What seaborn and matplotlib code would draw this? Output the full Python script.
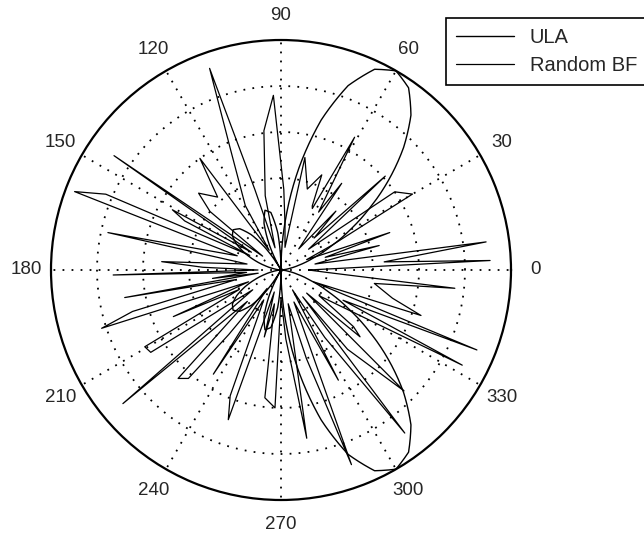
import numpy as np
import pandas as pd
import matplotlib
matplotlib.use("Agg")
import matplotlib.pyplot as plt
import seaborn as sns

# ---------------- data ----------------
# ULA beam pattern (normalised magnitude), read every 5 degrees
ula_theta_deg = list(range(0, 365, 5))
ula_r = [0.000, 0.009, 0.035, 0.080, 0.145, 0.233, 0.343, 0.472, 0.613, 0.754,
         0.879, 0.967, 1.000, 0.963, 0.853, 0.675, 0.452, 0.216, 0.000, 0.163,
         0.254, 0.269, 0.216, 0.118, 0.000, 0.112, 0.200, 0.254, 0.272, 0.258,
         0.222, 0.173, 0.120, 0.071, 0.033, 0.008, 0.000, 0.008, 0.033, 0.071,
         0.120, 0.173, 0.222, 0.258, 0.272, 0.254, 0.200, 0.112, 0.000, 0.118,
         0.216, 0.269, 0.254, 0.163, 0.000, 0.216, 0.452, 0.675, 0.853, 0.963,
         1.000, 0.967, 0.879, 0.754, 0.613, 0.472, 0.343, 0.233, 0.145, 0.080,
         0.035, 0.009, 0.000]

# Random beamforming pattern (spiky), angle in degrees and magnitude
rbf_theta_deg = [0, 2.6, 4.5, 7.8, 10, 14, 16, 19, 22, 26, 30, 34.5, 37, 42, 44,
                 47, 50, 55, 57, 61, 63, 64, 66.8, 72, 78, 80, 85, 88, 92.5, 97,
                 102, 105, 108, 109.5, 112.7, 119, 121, 126, 131, 137, 140.5,
                 143, 145.6, 149, 151, 153, 155, 156.6, 159.2, 162, 167.8, 170,
                 176, 178, 180, 181.7, 184, 187, 188, 190, 192, 195.6, 198, 200,
                 203.4, 205, 209.4, 212.3, 215, 220.2, 223, 226.5, 229.5, 231,
                 233, 237, 240, 248, 250.6, 253, 256, 259, 262.8, 267.5, 270,
                 274, 278.7, 282, 286, 289.9, 292, 297.5, 300, 303, 307.2, 309,
                 310, 315.5, 318, 319.8, 322, 326, 332.3, 334, 337.8, 340, 342,
                 345.8, 351.8, 354, 357, 360]
rbf_r = [0.12, 0.91, 0.45, 0.90, 0.15, 0.44, 0.20, 0.50, 0.12, 0.25, 0.66, 0.60,
         0.15, 0.61, 0.20, 0.35, 0.12, 0.46, 0.30, 0.66, 0.30, 0.31, 0.45, 0.37,
         0.50, 0.10, 0.20, 0.35, 0.76, 0.61, 0.33, 0.10, 0.37, 0.93, 0.57, 0.32,
         0.10, 0.60, 0.42, 0.49, 0.40, 0.10, 0.88, 0.15, 0.54, 0.47, 0.15, 0.83,
         0.96, 0.20, 0.77, 0.15, 0.52, 0.34, 0.10, 0.73, 0.15, 0.30, 0.10, 0.69,
         0.20, 0.67, 0.82, 0.15, 0.51, 0.20, 0.68, 0.67, 0.15, 0.90, 0.20, 0.65,
         0.62, 0.36, 0.10, 0.54, 0.15, 0.59, 0.69, 0.10, 0.30, 0.15, 0.56, 0.60,
         0.12, 0.30, 0.74, 0.15, 0.40, 0.90, 0.15, 0.54, 0.10, 0.35, 0.89, 0.15,
         0.45, 0.75, 0.15, 0.45, 0.40, 0.20, 0.89, 0.30, 0.92, 0.15, 0.64, 0.50,
         0.41, 0.76, 0.20, 0.12]

series_names = ["ULA", "Random BF"]
angle_labels = ["0", "30", "60", "90", "120", "150", "180", "210", "240",
                "270", "300", "330"]
ring_levels = [0.2, 0.4, 0.6, 0.8]

# ---------------- plot ----------------
sns.set_style("white")
plt.rcParams["font.family"] = ["Liberation Sans", "DejaVu Sans"]

W, H = 644, 534
fig = plt.figure(figsize=(W / 100, H / 100), dpi=100)
cx, cy, R = 281, 270, 230
ax = fig.add_axes([(cx - R) / W, (H - cy - R) / H, 2 * R / W, 2 * R / H],
                  projection="polar")

ula_df = pd.DataFrame({"theta": np.deg2rad(ula_theta_deg), "r": ula_r})
rbf_df = pd.DataFrame({"theta": np.deg2rad(rbf_theta_deg), "r": rbf_r})

sns.lineplot(data=ula_df, x="theta", y="r", ax=ax, sort=False, estimator=None,
             color="black", linewidth=1.0, label=series_names[0])
ula_line = ax.lines[-1]
# draw the ULA pattern as a smooth curve in polar space
ula_line.get_path()._interpolation_steps = 24

sns.lineplot(data=rbf_df, x="theta", y="r", ax=ax, sort=False, estimator=None,
             color="black", linewidth=0.9, label=series_names[1])

ax.set_ylim(0, 1)
ax.set_xlabel("")
ax.set_ylabel("")
ang_ticks = np.deg2rad(np.arange(0, 360, 30))
ax.set_xticks(ang_ticks)
ax.set_xticklabels([])
ax.set_yticks(ring_levels)
ax.set_yticklabels([])
ax.grid(True, color="black", linewidth=1.3, linestyle=(0, (1, 4)))
ax.spines["polar"].set_linewidth(1.6)
ax.spines["polar"].set_color("black")

for t, lab in zip(ang_ticks, angle_labels):
    ax.text(t, 1.108, lab, ha="center", va="center", fontsize=13.5,
            clip_on=False)

leg = ax.legend(loc="upper left", bbox_to_anchor=(446 / W, 1 - 18 / H),
                bbox_transform=fig.transFigure, frameon=True, fancybox=False,
                shadow=False, fontsize=14.5, handlelength=2.9,
                handletextpad=0.75, labelspacing=0.45, borderpad=0.5,
                borderaxespad=0)
leg.get_frame().set_edgecolor("black")
leg.get_frame().set_linewidth(1.2)
leg.get_frame().set_facecolor("white")
leg.get_frame().set_alpha(1)

fig.savefig("out.png", dpi=100)
